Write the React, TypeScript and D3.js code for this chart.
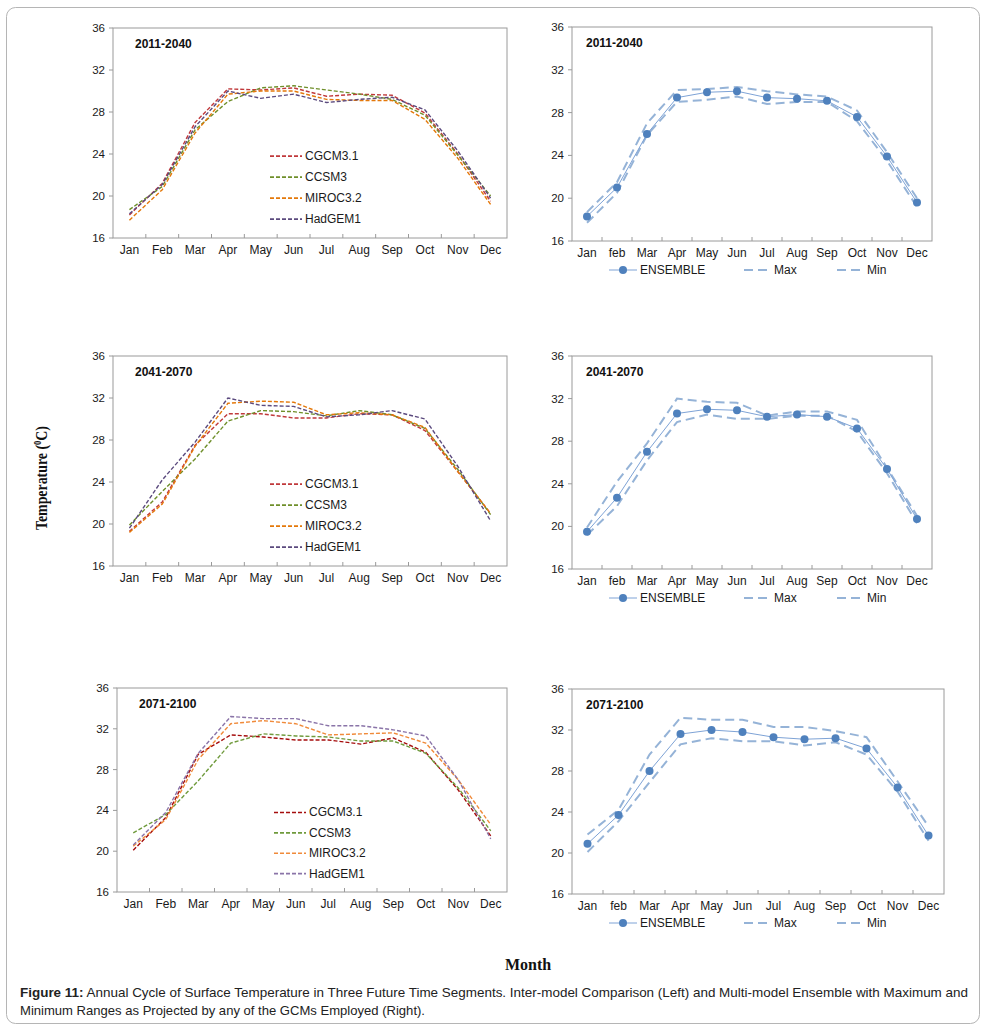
import React from 'react';
import * as d3 from 'd3';

// 月ラベル
const months = ["Jan", "Feb", "Mar", "Apr", "May", "Jun", "Jul", "Aug", "Sep", "Oct", "Nov", "Dec"];
const monthsRight = ["Jan", "feb", "Mar", "Apr", "May", "Jun", "Jul", "Aug", "Sep", "Oct", "Nov", "Dec"];
const models = ["CGCM3.1", "CCSM3", "MIROC3.2", "HadGEM1"];
const yTicks = [16, 20, 24, 28, 32, 36];
const periods = ["2011-2040", "2041-2070", "2071-2100"];

// 2011-2040
const cgcm2011 = [18.2, 21.2, 27.0, 30.2, 30.1, 30.3, 29.5, 29.7, 29.6, 27.9, 24.0, 19.5];
const ccsm2011 = [18.7, 20.9, 26.3, 29.0, 30.3, 30.5, 30.1, 29.7, 29.2, 27.7, 23.9, 20.0];
const miroc2011 = [17.7, 20.6, 26.0, 29.7, 30.0, 30.0, 29.2, 29.1, 29.1, 27.3, 23.6, 19.2];
const hadgem2011 = [18.3, 21.1, 26.6, 30.0, 29.3, 29.7, 28.9, 29.2, 29.4, 28.2, 24.3, 19.8];
const ensemble2011 = [18.3, 21.0, 26.0, 29.4, 29.9, 30.0, 29.4, 29.3, 29.1, 27.6, 23.9, 19.6];
const max2011 = [18.7, 21.5, 27.0, 30.1, 30.2, 30.4, 30.0, 29.7, 29.5, 28.2, 24.3, 20.0];
const min2011 = [17.7, 20.5, 25.9, 29.0, 29.2, 29.5, 28.8, 29.0, 29.0, 27.2, 23.5, 19.2];

// 2041-2070
const cgcm2041 = [19.3, 22.1, 27.5, 30.5, 30.5, 30.1, 30.1, 30.5, 30.4, 28.9, 25.0, 21.0];
const ccsm2041 = [19.9, 23.1, 26.2, 29.8, 30.8, 30.7, 30.3, 30.8, 30.4, 29.1, 25.2, 20.9];
const miroc2041 = [19.2, 21.9, 27.4, 31.5, 31.7, 31.6, 30.4, 30.6, 30.4, 29.2, 25.0, 21.0];
const hadgem2041 = [19.6, 24.2, 27.8, 32.0, 31.3, 31.2, 30.2, 30.4, 30.8, 30.0, 25.5, 20.3];
const ensemble2041 = [19.5, 22.7, 27.0, 30.6, 31.0, 30.9, 30.3, 30.5, 30.3, 29.2, 25.4, 20.7];
const max2041 = [19.9, 24.2, 27.8, 32.0, 31.7, 31.6, 30.4, 30.8, 30.8, 30.0, 25.5, 21.0];
const min2041 = [19.2, 21.9, 26.2, 29.8, 30.5, 30.1, 30.1, 30.4, 30.4, 28.9, 25.0, 20.3];

// 2071-2100
const cgcm2071 = [20.1, 23.3, 29.5, 31.4, 31.2, 30.9, 30.9, 30.5, 31.1, 29.7, 26.0, 21.5];
const ccsm2071 = [21.8, 23.6, 26.9, 30.6, 31.5, 31.3, 31.2, 30.8, 30.8, 29.6, 26.2, 22.0];
const miroc2071 = [20.5, 23.1, 29.0, 32.5, 32.8, 32.5, 31.4, 31.5, 31.6, 30.6, 27.0, 22.6];
const hadgem2071 = [20.6, 23.8, 29.6, 33.2, 33.0, 33.0, 32.3, 32.3, 31.9, 31.3, 27.0, 21.2];
const ensemble2071 = [20.9, 23.7, 28.0, 31.6, 32.0, 31.8, 31.3, 31.1, 31.2, 30.2, 26.4, 21.7];
const max2071 = [21.8, 24.2, 29.6, 33.2, 33.0, 33.0, 32.3, 32.3, 31.9, 31.3, 27.0, 22.6];
const min2071 = [20.1, 23.1, 26.9, 30.6, 31.2, 30.9, 30.9, 30.5, 30.8, 29.6, 26.0, 21.2];

const FONT = "Arial, 'Liberation Sans', sans-serif";
const SERIF = "'Liberation Serif', 'Times New Roman', serif";

type Box = { x0: number; x1: number; y0: number; y1: number };

function Frame({ box, labels, titleText, titleDx }: { box: Box; labels: string[]; titleText: string; titleDx: number }) {
  const x = d3.scaleBand().domain(labels).range([box.x0, box.x1]);
  const y = d3.scaleLinear().domain([16, 36]).range([box.y1, box.y0]);
  const step = x.step();
  return (
    <g>
      <rect x={box.x0} y={box.y0} width={box.x1 - box.x0} height={box.y1 - box.y0} fill="none" stroke="#9a9a9a" strokeWidth={1} />
      {yTicks.map(t => (
        <g key={t}>
          <line x1={box.x0 - 4} x2={box.x0} y1={y(t)} y2={y(t)} stroke="#9a9a9a" />
          <text x={box.x0 - 8} y={y(t) + 4} textAnchor="end" fontSize={11.5} fontFamily={FONT} fill="#1a1a1a">{t}</text>
        </g>
      ))}
      {labels.map((m, i) => (
        <g key={m}>
          {i > 0 && <line x1={box.x0 + i * step} x2={box.x0 + i * step} y1={box.y1} y2={box.y1 - 4} stroke="#9a9a9a" />}
          <text x={(x(m) ?? 0) + step / 2} y={box.y1 + 16} textAnchor="middle" fontSize={12} fontFamily={FONT} fill="#1a1a1a">{m}</text>
        </g>
      ))}
      <text x={box.x0 + titleDx} y={box.y0 + 20} fontSize={12} fontWeight="bold" fontFamily={FONT} fill="#111">{titleText}</text>
    </g>
  );
}

function LeftPanel({ box, title, series, colors }: { box: Box; title: string; series: number[][]; colors: string[] }) {
  const x = d3.scaleBand().domain(months).range([box.x0, box.x1]);
  const y = d3.scaleLinear().domain([16, 36]).range([box.y1, box.y0]);
  const line = d3.line<number>()
    .x((_, i) => (x(months[i]) ?? 0) + x.bandwidth() / 2)
    .y(d => y(d));
  const h = box.y1 - box.y0;
  const rows = [0.61, 0.71, 0.81, 0.91];
  return (
    <g>
      <Frame box={box} labels={months} titleText={title} titleDx={22} />
      {series.map((s, i) => (
        <path key={i} d={line(s) ?? ""} fill="none" stroke={colors[i]} strokeWidth={1.4} strokeDasharray="4,2" />
      ))}
      {models.map((m, i) => {
        const ly = box.y0 + h * rows[i];
        return (
          <g key={m}>
            <line x1={box.x0 + 157} x2={box.x0 + 189} y1={ly} y2={ly} stroke={colors[i]} strokeWidth={1.6} strokeDasharray="4,2" />
            <text x={box.x0 + 192} y={ly + 4} fontSize={12} fontFamily={FONT} fill="#1a1a1a">{m}</text>
          </g>
        );
      })}
    </g>
  );
}

function RightPanel({ box, title, ens, mx, mn }: { box: Box; title: string; ens: number[]; mx: number[]; mn: number[] }) {
  const x = d3.scaleBand().domain(monthsRight).range([box.x0, box.x1]);
  const y = d3.scaleLinear().domain([16, 36]).range([box.y1, box.y0]);
  const cx = (i: number) => (x(monthsRight[i]) ?? 0) + x.bandwidth() / 2;
  const line = d3.line<number>().x((_, i) => cx(i)).y(d => y(d));
  const ly = box.y1 + 29;
  const lx = box.x0;
  const dashColor = "#95b3d7";
  return (
    <g>
      <Frame box={box} labels={monthsRight} titleText={title} titleDx={14} />
      <path d={line(mx) ?? ""} fill="none" stroke={dashColor} strokeWidth={2} strokeDasharray="9,5" />
      <path d={line(mn) ?? ""} fill="none" stroke={dashColor} strokeWidth={2} strokeDasharray="9,5" />
      <path d={line(ens) ?? ""} fill="none" stroke="#7ea3d6" strokeWidth={1} />
      {ens.map((d, i) => (
        <circle key={i} cx={cx(i)} cy={y(d)} r={4} fill="#4f81bd" />
      ))}
      <line x1={lx + 37} x2={lx + 65} y1={ly} y2={ly} stroke="#7ea3d6" strokeWidth={1} />
      <circle cx={lx + 51} cy={ly} r={4} fill="#4f81bd" />
      <text x={lx + 68} y={ly + 4} fontSize={12} fontFamily={FONT} fill="#1a1a1a">ENSEMBLE</text>
      <line x1={lx + 172} x2={lx + 196} y1={ly} y2={ly} stroke={dashColor} strokeWidth={2} strokeDasharray="9,5" />
      <text x={lx + 202} y={ly + 4} fontSize={12} fontFamily={FONT} fill="#1a1a1a">Max</text>
      <line x1={lx + 265} x2={lx + 289} y1={ly} y2={ly} stroke={dashColor} strokeWidth={2} strokeDasharray="9,5" />
      <text x={lx + 295} y={ly + 4} fontSize={12} fontFamily={FONT} fill="#1a1a1a">Min</text>
    </g>
  );
}

export default function App() {
  const colorsA = ["#c0393b", "#6f8f2a", "#e4780a", "#5b4a7e"];
  const colorsC = ["#a50d0d", "#6f9a3c", "#f08a3a", "#8a74a8"];
  return (
    <div style={{ position: "absolute", left: 0, top: 0 }}>
      <svg width={987} height={1034} style={{ display: "block", background: "#fff" }}>
        <rect x={6.5} y={7.5} width={973} height={1016} rx={9} fill="#fff" stroke="#b5b5b5" strokeWidth={1} />
        <LeftPanel box={{ x0: 113, x1: 507, y0: 28, y1: 238 }} title={periods[0]}
          series={[cgcm2011, ccsm2011, miroc2011, hadgem2011]} colors={colorsA} />
        <LeftPanel box={{ x0: 113, x1: 507, y0: 356, y1: 566 }} title={periods[1]}
          series={[cgcm2041, ccsm2041, miroc2041, hadgem2041]} colors={colorsA} />
        <LeftPanel box={{ x0: 117, x1: 507, y0: 688, y1: 892 }} title={periods[2]}
          series={[cgcm2071, ccsm2071, miroc2071, hadgem2071]} colors={colorsC} />
        <RightPanel box={{ x0: 572, x1: 932, y0: 27, y1: 241 }} title={periods[0]}
          ens={ensemble2011} mx={max2011} mn={min2011} />
        <RightPanel box={{ x0: 572, x1: 932, y0: 356, y1: 569 }} title={periods[1]}
          ens={ensemble2041} mx={max2041} mn={min2041} />
        <RightPanel box={{ x0: 572, x1: 944, y0: 689, y1: 894 }} title={periods[2]}
          ens={ensemble2071} mx={max2071} mn={min2071} />
        <text transform="translate(47,478) rotate(-90)" textAnchor="middle" fontSize={16} fontWeight="bold"
          fontFamily={SERIF} fill="#111" textLength={104} lengthAdjust="spacingAndGlyphs">
          Temperature (<tspan fontSize={10} dy={-6}>0</tspan><tspan dy={6}>C)</tspan>
        </text>
        <text x={528} y={970} textAnchor="middle" fontSize={16} fontWeight="bold"
          fontFamily={SERIF} fill="#111">Month</text>
        <text x={20} y={997} fontSize={13} fontFamily="'Liberation Sans Narrow', 'Arial Narrow', Arial, sans-serif" fill="#222"
          textLength={948} lengthAdjust="spacingAndGlyphs">
          <tspan fontWeight="bold">Figure 11:</tspan> Annual Cycle of Surface Temperature in Three Future Time Segments. Inter-model Comparison (Left) and Multi-model Ensemble with Maximum and
        </text>
        <text x={20} y={1015} fontSize={13} fontFamily="'Liberation Sans Narrow', 'Arial Narrow', Arial, sans-serif" fill="#222"
          textLength={405} lengthAdjust="spacingAndGlyphs">
          Minimum Ranges as Projected by any of the GCMs Employed (Right).
        </text>
      </svg>
    </div>
  );
}
